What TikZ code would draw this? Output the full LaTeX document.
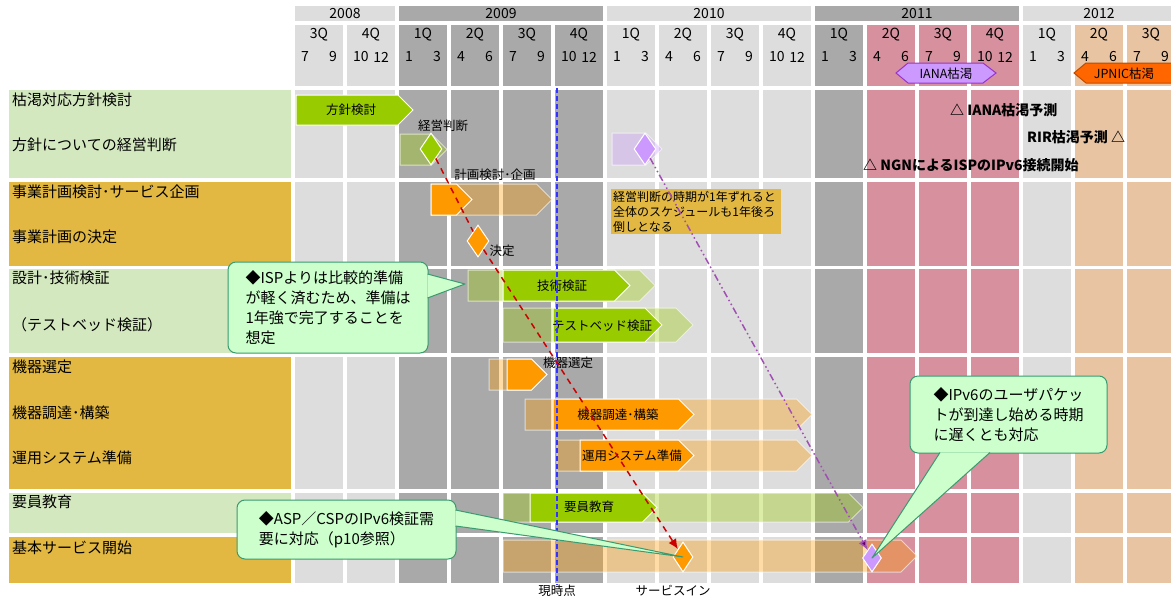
\documentclass[tikz,border=0pt]{standalone}
\usepackage{fontspec}
\setmainfont{Noto Sans CJK JP}
\usetikzlibrary{shapes.geometric,
	arrows.meta,
	calc,
	positioning}

\definecolor{cellLight}{HTML}{DDDDDD}
\definecolor{cellDark}{HTML}{A9A9A9}
\definecolor{cellPink}{HTML}{D6909E}
\definecolor{cellPeach}{HTML}{E8C4A2}
\definecolor{labGreen}{HTML}{D3E8BF}
\definecolor{labGold}{HTML}{E2B843}
\definecolor{barGreen}{HTML}{99CC00}
\definecolor{barOrange}{HTML}{FF9900}
\definecolor{msPurple}{HTML}{CC99FF}
\definecolor{msPurpleLine}{HTML}{9933CC}
\definecolor{jpOrange}{HTML}{FF6600}
\definecolor{jpLine}{HTML}{C04A00}
\definecolor{noteFill}{HTML}{CCFFCC}
\definecolor{noteLine}{HTML}{3A9A70}
\definecolor{linkRed}{HTML}{CC0000}
\definecolor{linkPurple}{HTML}{A24FB5}
\definecolor{nowBlue}{HTML}{3333FF}

\newcommand{\chevbar}[5]{\filldraw[#1] (#2,#4) -- ({#3-(#5-#4)/2},#4) -- (#3,{(#4+#5)/2}) -- ({#3-(#5-#4)/2},#5) -- (#2,#5) -- cycle;}

\tikzset{
	lbl/.style={anchor=west, inner sep=0pt, font=\fontsize{15}{18}\selectfont},
	hdr/.style={inner sep=0pt, font=\fontsize{14}{16}\selectfont},
	bartxt/.style={inner sep=0pt, font=\fontsize{12.5}{14}\selectfont},
	smalltxt/.style={inner sep=0pt, font=\fontsize{12.5}{14}\selectfont},
	anno/.style={anchor=west, inner sep=0pt, font=\fontsize{14}{16}\selectfont\bfseries},
	done/.style={fill=#1, draw=white, line width=1pt},
	plan/.style={fill=#1, fill opacity=0.35, draw=white, draw opacity=0.6, line width=1pt},
	mstone/.style={diamond, fill=#1, draw=white, line width=1pt, inner sep=0pt, minimum width=22pt, minimum height=32pt},
	note/.style={draw=noteLine, fill=noteFill, line width=1pt, rounded corners=8pt, align=left, inner sep=0pt, font=\fontsize{15}{20}\selectfont},
	notetip/.style={draw=noteLine, fill=noteFill, line width=1pt, line join=round},
	redlink/.style={linkRed, line width=1.5pt, dash pattern=on 6pt off 5pt},
	purplelink/.style={linkPurple, line width=1.5pt, dash pattern=on 7pt off 3pt on 1.5pt off 3pt on 1.5pt off 3pt}
}

\begin{document}
\begin{tikzpicture}[x=1pt, y=-1pt]
	\useasboundingbox (0,0) rectangle (1171,597);
	\clip (0,0) rectangle (1171,597);

	\foreach \xa/\xb/\c/\yr in {295/395/cellLight/2008, 399/603/cellDark/2009, 607/811/cellLight/2010, 815/1019/cellDark/2011, 1023/1175/cellLight/2012} {
		\fill[\c] (\xa,6) rectangle (\xb,21);
		\node[hdr] (y\yr) at ({(\xa+\xb)/2},14) {\yr};
	}
	\foreach \i/\c/\q/\ma/\mb in {0/cellLight/3/7/9, 1/cellLight/4/10/12, 2/cellDark/1/1/3, 3/cellDark/2/4/6, 4/cellDark/3/7/9, 5/cellDark/4/10/12, 6/cellLight/1/1/3, 7/cellLight/2/4/6, 8/cellLight/3/7/9, 9/cellLight/4/10/12, 10/cellDark/1/1/3, 11/cellPink/2/4/6, 12/cellPink/3/7/9, 13/cellPink/4/10/12, 14/cellLight/1/1/3, 15/cellPeach/2/4/6, 16/cellPeach/3/7/9} {
		\pgfmathsetmacro{\xa}{295+52*\i}
		\fill[\c] (\xa,25) rectangle ++(48,61);
		\node[hdr] (q\i) at (\xa+24,35) {\q Q};
		\node[hdr, anchor=west] (ma\i) at (\xa+6,57) {\ma};
		\node[hdr, anchor=east] (mb\i) at (\xa+42,57) {\mb};
		\foreach \ya/\yb in {90/178, 182/266, 269/353, 357/489, 493/533, 537/583}
			\fill[\c] (\xa,\ya) rectangle (\xa+48,\yb);
	}

	\foreach \ya/\yb/\c in {90/178/labGreen, 182/266/labGold, 269/353/labGreen, 357/489/labGold, 493/533/labGreen, 537/583/labGold}
		\fill[\c] (9,\ya) rectangle (291,\yb);
	\node[lbl] (r1) at (12,100) {枯渇対応方針検討};
	\node[lbl] (r2) at (12,145) {方針についての経営判断};
	\node[lbl] (r3) at (12,192) {事業計画検討･サービス企画};
	\node[lbl] (r4) at (12,237) {事業計画の決定};
	\node[lbl] (r5) at (12,278) {設計･技術検証};
	\node[lbl] (r6) at (12,325) {（テストベッド検証）};
	\node[lbl] (r7) at (12,367) {機器選定};
	\node[lbl] (r8) at (12,413) {機器調達･構築};
	\node[lbl] (r9) at (12,458) {運用システム準備};
	\node[lbl] (r10) at (12,502) {要員教育};
	\node[lbl] (r11) at (12,548) {基本サービス開始};

	\filldraw[fill=msPurple, draw=msPurpleLine, line width=1pt] (896,73) -- (908,63) -- (983,63) -- (996,73) -- (983,83) -- (908,83) -- cycle;
	\node[smalltxt] (iana) at (946,73.5) {IANA枯渇};
	\filldraw[fill=jpOrange, draw=jpLine, line width=1pt] (1074,73) -- (1086,63) -- (1190,63) -- (1200,73) -- (1190,83) -- (1086,83) -- cycle;
	\node[smalltxt] (jpnic) at (1124,74) {JPNIC枯渇};

	\node[anno] (a1) at (950,110) {△ IANA枯渇予測};
	\node[anno] (a2) at (1027,137) {RIR枯渇予測 △};
	\node[anno] (a3) at (863,165) {△ NGNによるISPのIPv6接続開始};

	\chevbar{done=barGreen}{296}{413}{95}{125}
	\node[bartxt] (b1) at (351,110) {方針検討};
	\chevbar{plan=barGreen}{400}{447}{134}{165}
	\chevbar{plan=msPurple}{612}{662}{133}{165}
	\chevbar{plan=barOrange}{431}{552}{184}{215}
	\chevbar{done=barOrange}{431}{472}{184}{215}
	\chevbar{plan=barGreen}{468}{655}{270}{301}
	\chevbar{done=barGreen}{503}{630}{270}{301}
	\node[bartxt] (b2) at (562,286) {技術検証};
	\chevbar{plan=barGreen}{503}{693}{308}{342}
	\chevbar{done=barGreen}{553}{662}{308}{342}
	\node[bartxt] (b3) at (602,326) {テストベッド検証};
	\chevbar{plan=barOrange}{489}{547}{359}{390}
	\chevbar{done=barOrange}{507}{547}{359}{390}
	\chevbar{plan=barOrange}{525}{812}{399}{430}
	\chevbar{done=barOrange}{553}{694}{399}{430}
	\node[bartxt] (b4) at (618,415) {機器調達･構築};
	\chevbar{plan=barOrange}{557}{812}{440}{471}
	\chevbar{done=barOrange}{580}{694}{440}{471}
	\node[bartxt] (b5) at (632,456) {運用システム準備};
	\chevbar{plan=barGreen}{503}{863}{493}{522}
	\chevbar{done=barGreen}{530}{657}{493}{522}
	\node[bartxt] (b6) at (589,507) {要員教育};
	\chevbar{plan=barOrange}{503}{917}{540}{572}

	\node[smalltxt] (l1) at (443,126) {経営判断};
	\node[smalltxt] (l2) at (495,175) {計画検討･企画};
	\node[smalltxt] (l3) at (502,251) {決定};
	\node[smalltxt] (l4) at (568,363) {機器選定};

	\node[fill=labGold, anchor=north west, align=left, inner sep=2pt, text width=166pt, font=\fontsize{12}{15}\selectfont] (shift) at (611,189) {経営判断の時期が1年ずれると\\全体のスケジュールも1年後ろ\\倒しとなる};

	\coordinate (nowtop) at (557,88);
	\node[smalltxt] (now) at (557,591) {現時点};
	\node[smalltxt] (svcin) at (673,591) {サービスイン};
	\draw[nowBlue, line width=2pt, dash pattern=on 5pt off 3pt] (nowtop) -- (now.north);

	\node[mstone=barGreen] (jdg) at (431,149) {};
	\node[mstone=msPurple] (jdglate) at (645,149) {};
	\node[mstone=barOrange] (dcs) at (478,241) {};
	\node[mstone=barOrange, minimum width=20pt, minimum height=30pt] (svc) at (683,557) {};
	\node[mstone=msPurple, minimum width=19pt, minimum height=28pt] (ipv6) at (872,558) {};

	\draw[redlink] (jdg) -- (dcs);
	\draw[redlink, -{Latex[length=10pt, width=9pt]}] (dcs) -- (svc);
	\draw[purplelink, -{Latex[length=10pt, width=9pt, fill=violet!80!black]}] (jdglate) -- (ipv6);

	\node[note, minimum width=200pt, minimum height=91pt] (nisp) at (328,307.5) {◆ISPよりは比較的準備\\が軽く済むため、準備は\\1年強で完了することを\\想定};
	\coordinate (isptip) at (465,284);
	\filldraw[notetip] ($(nisp.east)+(-1,-33.5)$) -- (isptip) -- ($(nisp.east)+(-1,-9.5)$);

	\node[note, minimum width=219pt, minimum height=59pt] (nasp) at (346.5,529.5) {◆ASP／CSPのIPv6検証需\\要に対応（p10参照）};
	\filldraw[notetip] ($(nasp.east)+(-1,-3.5)$) -- (svc.center) -- ($(nasp.east)+(-1,-19.5)$);

	\node[note, minimum width=197pt, minimum height=77pt] (nipv6) at (1008.5,414.5) {◆IPv6のユーザパケッ\\トが到達し始める時期\\に遅くとも対応};
	\filldraw[notetip] ($(nipv6.south)+(-68.5,-1)$) -- (ipv6.center) -- ($(nipv6.south)+(-18.5,-1)$);
\end{tikzpicture}
\end{document}
